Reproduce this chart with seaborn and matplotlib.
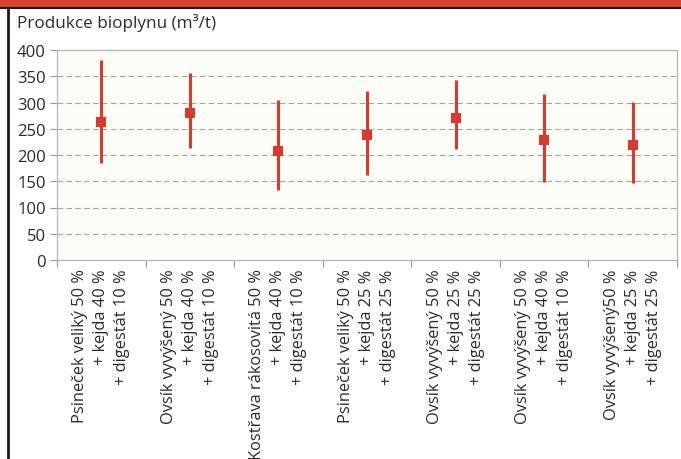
import matplotlib
matplotlib.use("Agg")
import matplotlib.pyplot as plt
import seaborn as sns
from matplotlib.lines import Line2D
from matplotlib.patches import Rectangle

# Data (m3/t)
categories = [
    "Psineček veliký 50 %\n+ kejda 40 %\n+ digestát 10 %",
    "Ovsík vyvýšený 50 %\n+ kejda 40 %\n+ digestát 10 %",
    "Kostřava rákosovitá 50 %\n+ kejda 40 %\n+ digestát 10 %",
    "Psineček veliký 50 %\n+ kejda 25 %\n+ digestát 25 %",
    "Ovsík vyvýšený 50 %\n+ kejda 25 %\n+ digestát 25 %",
    "Ovsík vyvýšený 50 %\n+ kejda 40 %\n+ digestát 10 %",
    "Ovsík vyvýšený50 %\n+ kejda 25 %\n+ digestát 25 %",
]
mean_values = [262, 280, 208, 239, 271, 229, 220]
max_values = [381, 357, 305, 322, 342, 316, 301]
min_values = [185, 213, 133, 162, 211, 148, 146]
y_ticks = [0, 50, 100, 150, 200, 250, 300, 350, 400]

RED = "#d93a2e"
TEXT = "#2b2b2b"

sns.set_theme(style="white")
plt.rcParams["font.family"] = ["Open Sans", "DejaVu Sans"]

fig = plt.figure(figsize=(6.81, 4.60), dpi=100)
fig.patch.set_facecolor("white")
ax = fig.add_axes([57 / 681, 1 - 261 / 460, 620 / 681, 210 / 460])
ax.set_facecolor("#fdfdf8")

positions = list(range(len(categories)))
lower_err = [m - lo for m, lo in zip(mean_values, min_values)]
upper_err = [hi - m for m, hi in zip(mean_values, max_values)]

ax.errorbar(positions, mean_values, yerr=[lower_err, upper_err], fmt="none",
            ecolor=RED, elinewidth=2.2, capsize=0, zorder=3)
sns.scatterplot(x=positions, y=mean_values, marker="s", s=45, color=RED,
                edgecolor=RED, linewidth=0, ax=ax, zorder=4)

ax.set_xlim(-0.5, len(categories) - 0.5)
ax.set_ylim(0, 400)
ax.set_yticks(y_ticks)
ax.set_yticklabels([str(t) for t in y_ticks], fontsize=12, color=TEXT)
for t in y_ticks[1:-1]:
    ax.axhline(t, color="#a5a5a5", lw=0.8, ls=(0, (5, 3)), zorder=1)

ax.set_xticks(positions)
ax.set_xticklabels(categories, rotation=90, fontsize=11.8, color=TEXT,
                   ha="center", va="top", multialignment="right",
                   linespacing=1.42)
ax.set_xticks([p - 0.5 for p in positions] + [len(categories) - 0.5], minor=True)
ax.tick_params(axis="x", which="major", length=0, pad=6)
ax.tick_params(axis="x", which="minor", length=5, width=0.8, color="#9a9a9a",
               direction="out", bottom=True)
ax.tick_params(axis="y", length=5, width=0.8, color="#9a9a9a", direction="out",
               left=True, pad=3)
ax.set_xlabel("")
ax.set_ylabel("")
for side in ax.spines.values():
    side.set_color("#b5b5b5")
    side.set_linewidth(0.9)

fig.text(17 / 681, 1 - 23 / 460, "Produkce bioplynu (m³/t)", fontsize=12.3,
         color=TEXT, va="center", ha="left")

# Frame pieces of the source figure: red title band and black borders
fig.patches.append(Rectangle((0, 1 - 8 / 460), 1, 8 / 460, transform=fig.transFigure,
                             facecolor="#d8432c", edgecolor="none", zorder=0))
fig.lines.append(Line2D([0, 1], [1 - 9 / 460, 1 - 9 / 460], transform=fig.transFigure,
                        color="#1a1a1a", lw=1.5))
fig.lines.append(Line2D([8 / 681, 8 / 681], [0, 1 - 9 / 460], transform=fig.transFigure,
                        color="#1a1a1a", lw=2.0))

fig.savefig("out.png", dpi=100)
